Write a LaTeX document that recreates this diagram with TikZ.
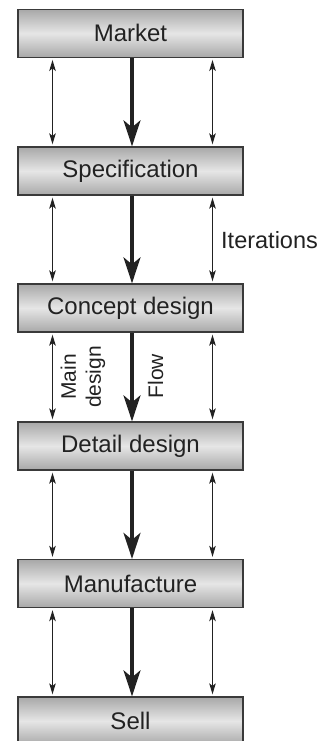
\documentclass[tikz,border=0pt]{standalone}
\usepackage{fontspec}
\setmainfont{Liberation Sans}
\usetikzlibrary{arrows.meta}
\definecolor{edgegray}{HTML}{3A3A3A}
\definecolor{shadeout}{HTML}{A8A8A8}
\definecolor{shadein}{HTML}{E6E6E6}
\definecolor{txt}{HTML}{222222}
\tikzset{
  x=1pt, y=-1pt,
  stagebox/.style={draw=edgegray, line width=1.3pt, top color=shadeout, bottom color=shadeout, middle color=shadein,
    minimum width=225pt, minimum height=48pt, inner sep=0pt, text=txt,
    font=\fontsize{24}{28}\selectfont},
  iterarrow/.style={line width=1.1pt, draw=txt, {Stealth[length=11pt,width=6.5pt,inset=2.5pt]}-{Stealth[length=11pt,width=6.5pt,inset=2.5pt]}, shorten <=2pt, shorten >=2pt},
  flowarrow/.style={line width=3.4pt, draw=txt, -{Stealth[length=26pt,width=17pt,inset=7pt]}},
  lbl/.style={text=txt, inner sep=0pt}
}
\begin{document}
\begin{tikzpicture}
\useasboundingbox (0,0) rectangle (330,741);
\clip (0,0) rectangle (330,741);
\node[stagebox] (m) at (130.5,33.3) {Market};
\node[stagebox] (s) at (130.5,171) {Specification};
\node[stagebox] (c) at (130.5,308) {Concept design};
\node[stagebox] (d) at (130.5,446) {Detail design};
\node[stagebox] (f) at (130.5,583.5) {Manufacture};
\node[stagebox] (e) at (130.5,721) {Sell};
\foreach \a/\b in {m/s,s/c,c/d,d/f,f/e}{
  \draw[iterarrow] ([xshift=-78pt]\a.south) -- ([xshift=-78pt]\b.north);
  \draw[iterarrow] ([xshift=82pt]\a.south) -- ([xshift=82pt]\b.north);
  \draw[flowarrow] ([xshift=1.5pt]\a.south) -- ([xshift=1.5pt]\b.north);
}
\node[lbl, anchor=base west, font=\fontsize{23.5}{28}\selectfont] (it) at (221,248) {Iterations};
\node[lbl, rotate=90, align=center, font=\fontsize{21}{25}\selectfont] (md) at (83,377) {Main\\design};
\node[lbl, rotate=90, font=\fontsize{21}{25}\selectfont] (fl) at (155.5,376) {Flow};
\end{tikzpicture}
\end{document}
